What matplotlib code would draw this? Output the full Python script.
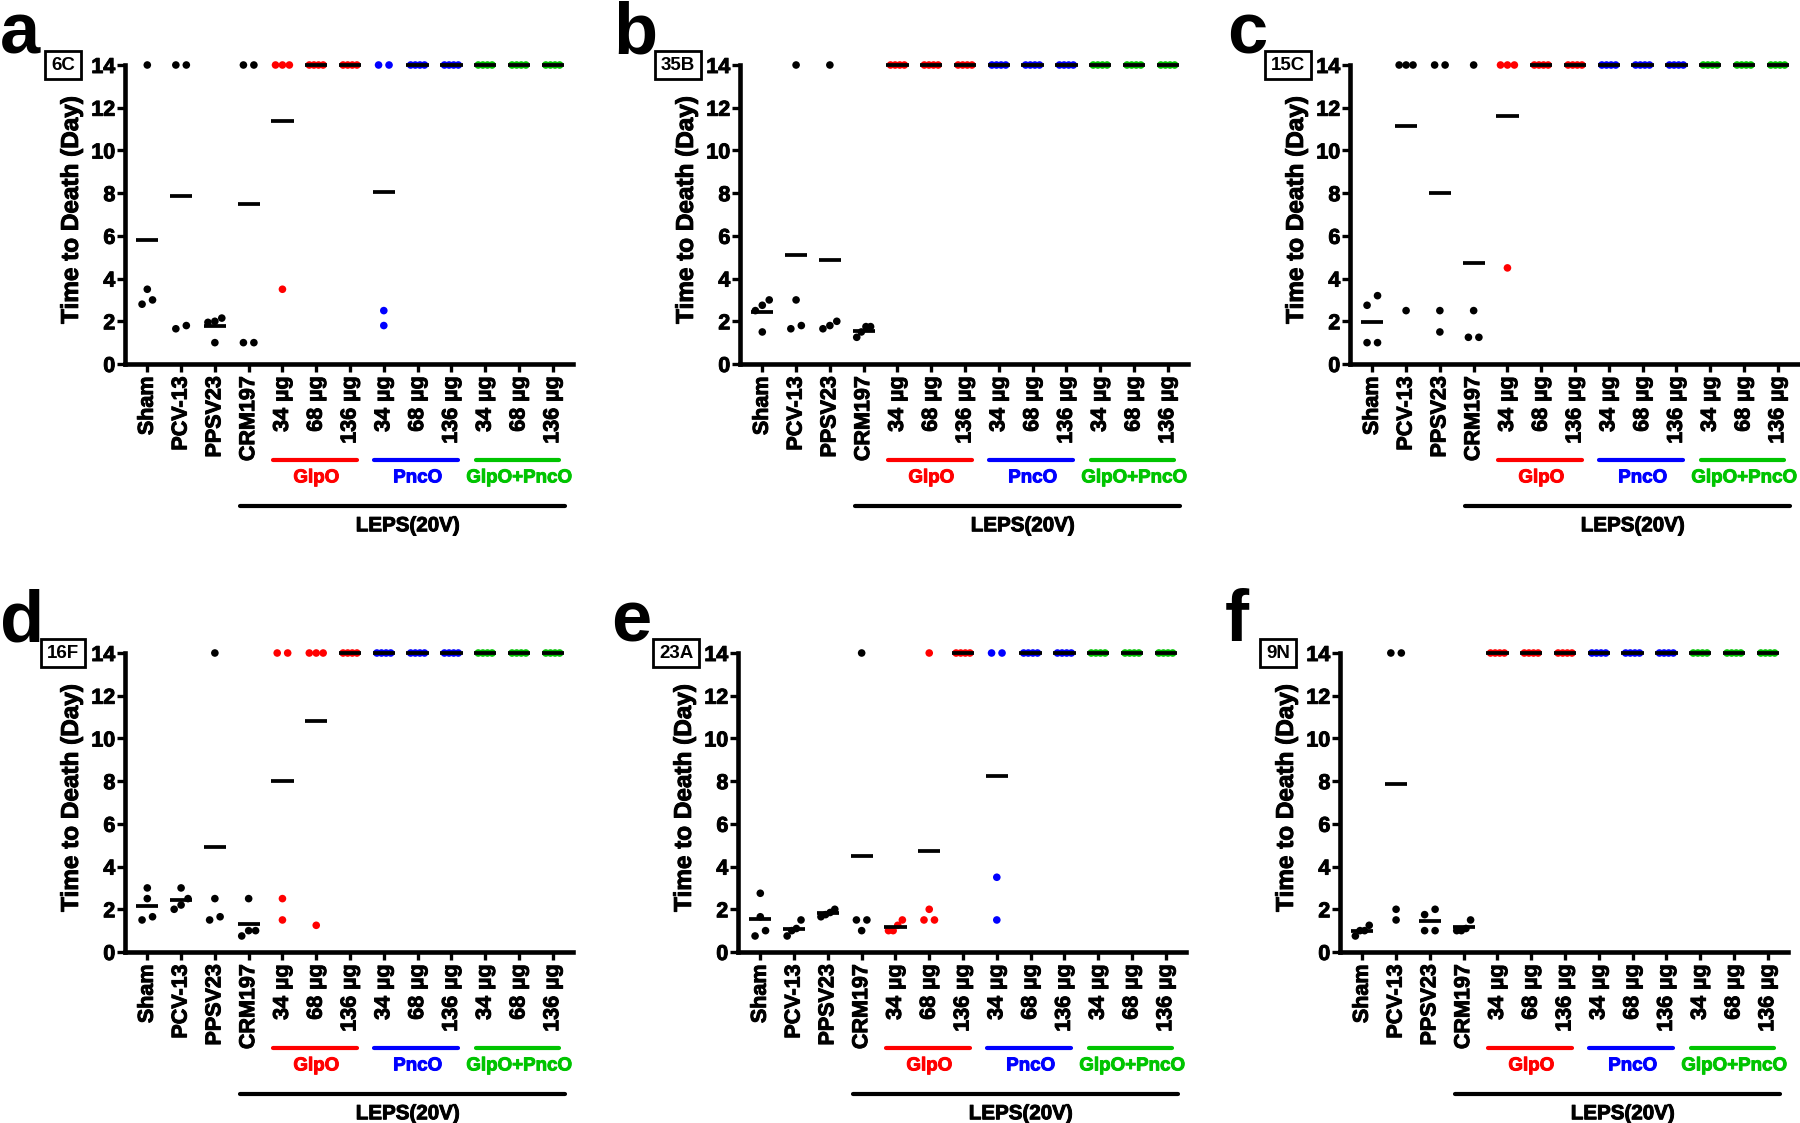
import numpy as np
import matplotlib
matplotlib.use('Agg')
import matplotlib.pyplot as plt
import matplotlib.patheffects as pe

plt.rcParams['font.family'] = ['Liberation Sans', 'DejaVu Sans']
plt.rcParams['font.weight'] = 'bold'

# ---------------- data ----------------
categories = ['Sham', 'PCV-13', 'PPSV23', 'CRM197',
              '34 µg', '68 µg', '136 µg',
              '34 µg', '68 µg', '136 µg',
              '34 µg', '68 µg', '136 µg']
group_names = ['GlpO', 'PncO', 'GlpO+PncO']
leps_label = 'LEPS(20V)'
yticks = [0, 2, 4, 6, 8, 10, 12, 14]
ylabel = 'Time to Death (Day)'
panel_letters = ['a', 'b', 'c', 'd', 'e', 'f']
serotypes = ['6C', '35B', '15C', '16F', '23A', '9N']

data_6C = [
    [14, 3.5, 2.8, 3.0],
    [14, 14, 1.65, 1.8],
    [2.0, 1.95, 2.15, 1.0],
    [14, 14, 1.0, 1.0],
    [14, 14, 14, 3.5],
    [14, 14, 14, 14],
    [14, 14, 14, 14],
    [14, 14, 2.5, 1.8],
    [14, 14, 14, 14],
    [14, 14, 14, 14],
    [14, 14, 14, 14],
    [14, 14, 14, 14],
    [14, 14, 14, 14],
]
data_35B = [
    [2.75, 3.0, 2.5, 1.5],
    [14, 3.0, 1.65, 1.8],
    [14, 2.0, 1.65, 1.8],
    [1.75, 1.75, 1.25, 1.5],
    [14, 14, 14, 14],
    [14, 14, 14, 14],
    [14, 14, 14, 14],
    [14, 14, 14, 14],
    [14, 14, 14, 14],
    [14, 14, 14, 14],
    [14, 14, 14, 14],
    [14, 14, 14, 14],
    [14, 14, 14, 14],
]
data_15C = [
    [3.2, 2.75, 1.0, 1.0],
    [14, 14, 14, 2.5],
    [14, 14, 2.5, 1.5],
    [14, 2.5, 1.25, 1.25],
    [14, 14, 14, 4.5],
    [14, 14, 14, 14],
    [14, 14, 14, 14],
    [14, 14, 14, 14],
    [14, 14, 14, 14],
    [14, 14, 14, 14],
    [14, 14, 14, 14],
    [14, 14, 14, 14],
    [14, 14, 14, 14],
]
data_16F = [
    [3.0, 2.5, 1.5, 1.65],
    [3.0, 2.5, 2.2, 2.0],
    [14, 2.5, 1.5, 1.65],
    [2.5, 1.0, 1.0, 0.75],
    [14, 14, 2.5, 1.5],
    [14, 14, 14, 1.25],
    [14, 14, 14, 14],
    [14, 14, 14, 14],
    [14, 14, 14, 14],
    [14, 14, 14, 14],
    [14, 14, 14, 14],
    [14, 14, 14, 14],
    [14, 14, 14, 14],
]
data_23A = [
    [2.75, 1.65, 1.0, 0.75],
    [1.5, 1.1, 1.0, 0.75],
    [2.0, 1.85, 1.75, 1.65],
    [14, 1.5, 1.5, 1.0],
    [1.5, 1.25, 1.0, 1.0],
    [14, 2.0, 1.5, 1.5],
    [14, 14, 14, 14],
    [14, 14, 3.5, 1.5],
    [14, 14, 14, 14],
    [14, 14, 14, 14],
    [14, 14, 14, 14],
    [14, 14, 14, 14],
    [14, 14, 14, 14],
]
data_9N = [
    [1.25, 1.0, 1.0, 0.75],
    [14, 14, 2.0, 1.5],
    [2.0, 1.75, 1.0, 1.0],
    [1.5, 1.1, 1.0, 1.0],
    [14, 14, 14, 14],
    [14, 14, 14, 14],
    [14, 14, 14, 14],
    [14, 14, 14, 14],
    [14, 14, 14, 14],
    [14, 14, 14, 14],
    [14, 14, 14, 14],
    [14, 14, 14, 14],
    [14, 14, 14, 14],
]
panels_data = [data_6C, data_35B, data_15C, data_16F, data_23A, data_9N]

# ---------------- style ----------------
RED, BLUE, GREEN, BLACK = '#ff0000', '#0000ff', '#00c400', '#000000'
cat_colors = [BLACK] * 4 + [RED] * 3 + [BLUE] * 3 + [GREEN] * 3
group_colors = [RED, BLUE, GREEN]
group_spans = [(4, 6), (7, 9), (10, 12)]

W, H = 1800, 1123
PX = 0.72  # points per pixel at dpi 100

fig = plt.figure(figsize=(W / 100, H / 100), dpi=100)

ax_left_px = [125, 740, 1350, 125, 738, 1340]
ax_bottom_px = [364, 364, 364, 952, 952, 952]
ax_w_px, ax_h_px = 448, 299
letter_pos = [(0, 53), (613, 53), (1227, 53), (0, 641), (611, 641), (1225, 641)]


def heavy(color='k', w=0.7):
    return [pe.withStroke(linewidth=w, foreground=color)]


def jitter(vals, thr=0.48, pair=0.31, maxspread=0.41):
    vals = np.asarray(vals, float)
    order = np.argsort(vals, kind='stable')
    offs = np.zeros(len(vals))
    clusters, cur = [], [order[0]]
    for i in order[1:]:
        if vals[i] - vals[cur[-1]] < thr:
            cur.append(i)
        else:
            clusters.append(cur)
            cur = [i]
    clusters.append(cur)
    for c in clusters:
        k = len(c)
        if k > 1:
            spread = min(pair * (k - 1), maxspread)
            for j, idx in enumerate(c):
                offs[idx] = -spread / 2 + spread * j / (k - 1)
    return offs


for p in range(6):
    l = ax_left_px[p] / W
    b = 1 - ax_bottom_px[p] / H
    ax = fig.add_axes([l, b, ax_w_px / W, ax_h_px / H])
    pdata = panels_data[p]
    xs = np.arange(len(categories))
    for xi, vals, col in zip(xs, pdata, cat_colors):
        offs = jitter(vals)
        ax.scatter(xi + offs, vals, s=30, color=col, edgecolors='none',
                   zorder=3, clip_on=False)
        m = np.mean(vals)
        ax.plot([xi - 0.33, xi + 0.33], [m, m], color='k', lw=2.7,
                solid_capstyle='butt', zorder=4, clip_on=False)

    ax.set_xlim(-0.66, 12.6)
    ax.set_ylim(0, 14)
    ax.set_yticks(yticks)
    ax.set_xticks(xs)
    ax.set_xticklabels(categories, rotation=90, fontsize=15.5, fontweight='bold')
    for t in ax.get_xticklabels():
        t.set_path_effects(heavy())
    for t in ax.get_yticklabels():
        t.set_fontweight('bold')
        t.set_path_effects(heavy())
    for s in ['top', 'right']:
        ax.spines[s].set_visible(False)
    for s in ['left', 'bottom']:
        ax.spines[s].set_linewidth(3.3)
        ax.spines[s].set_capstyle('projecting')
    ax.tick_params(axis='both', width=2.4, length=6)
    ax.tick_params(axis='y', labelsize=15.5, pad=1)
    ax.tick_params(axis='x', pad=3)
    yl = ax.set_ylabel(ylabel, fontsize=17.5, fontweight='bold')
    yl.set_path_effects(heavy())
    ax.yaxis.set_label_coords(-0.094, 0.515)

    trans = ax.get_xaxis_transform()
    for (s0, s1), col, name in zip(group_spans, group_colors, group_names):
        ax.plot([s0 - 0.28, s1 + 0.2], [-0.321, -0.321], transform=trans,
                color=col, lw=3, solid_capstyle='round', clip_on=False)
        ax.text((s0 + s1) / 2, -0.381, name, transform=trans, color=col,
                ha='center', va='center', fontsize=13.5, fontweight='bold',
                path_effects=heavy(col))
    ax.plot([3 - 0.26, 12 + 0.35], [-0.474, -0.474], transform=trans,
            color='k', lw=3, solid_capstyle='round', clip_on=False)
    ax.text(7.7, -0.541, leps_label, transform=trans, color='k',
            ha='center', va='center', fontsize=14.8, fontweight='bold',
            path_effects=heavy())

    ax.annotate(serotypes[p], xy=(0, 1), xycoords='axes fraction',
                xytext=(-62 * PX, 0), textcoords='offset points',
                ha='center', va='center', fontsize=13.5, fontweight='bold',
                bbox=dict(boxstyle='square,pad=0.3', fc='white', ec='k', lw=2.0))

    lx, ly = letter_pos[p]
    fig.text(lx / W, 1 - ly / H, panel_letters[p], fontsize=52,
             fontweight='bold', ha='left', va='baseline')

fig.savefig('out.png', dpi=100)
